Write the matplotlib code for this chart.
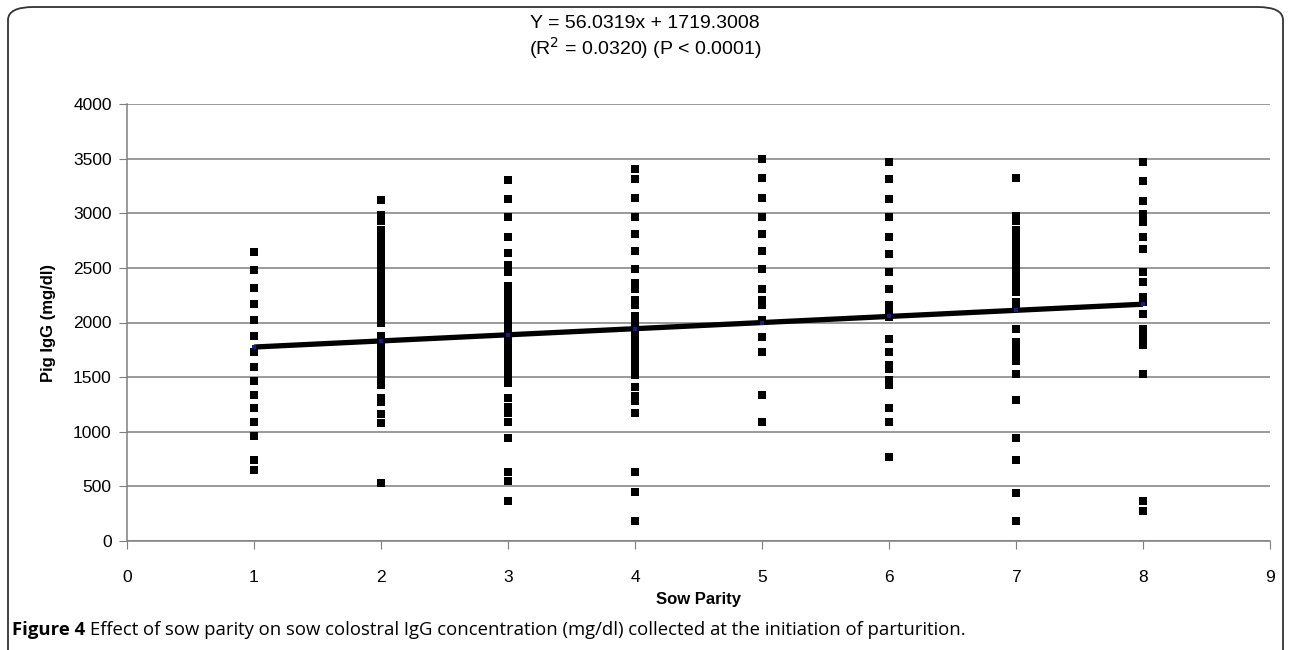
import matplotlib
matplotlib.use("Agg")
import matplotlib.pyplot as plt
from matplotlib.patches import FancyBboxPatch
import numpy as np

plt.rcParams['font.family'] = ['Liberation Sans', 'DejaVu Sans']

parity_1 = [2641, 2479, 2316, 2173, 2020, 1873, 1729, 1597, 1460, 1340, 1215, 1092, 964, 744, 652]
parity_2 = [3121, 2980, 2930, 2850, 2790, 2750, 2690, 2640, 2590, 2540, 2480, 2430,
            2390, 2340, 2290, 2240, 2190, 2140, 2090, 2040, 2000,
            1880, 1830, 1780, 1730, 1680, 1630, 1580, 1530, 1480, 1430,
            1310, 1270, 1160, 1080, 532]
parity_3 = [3305, 3129, 2968, 2780, 2637, 2530, 2460, 2330, 2270, 2210, 2150,
            2090, 2030, 1970, 1900, 1850, 1790, 1730, 1670, 1610, 1550, 1490, 1450,
            1311, 1229, 1168, 1092, 940, 636, 551, 363]
parity_4 = [3409, 3312, 3138, 2968, 2810, 2658, 2491, 2360, 2310, 2210, 2160,
            2060, 2010, 1944, 1868, 1820, 1760, 1700, 1640, 1580, 1520,
            1412, 1330, 1280, 1174, 636, 450, 187]
parity_5 = [3494, 3327, 3138, 2968, 2810, 2658, 2491, 2308, 2210, 2160, 2020,
            1868, 1731, 1336, 1092]
parity_6 = [3470, 3312, 3129, 2968, 2780, 2628, 2461, 2308, 2156, 2090, 2050,
            1852, 1731, 1610, 1570, 1470, 1430, 1214, 1092, 770]
parity_7 = [3327, 2977, 2930, 2850, 2790, 2730, 2700, 2640, 2580, 2536, 2470, 2430,
            2380, 2320, 2280, 2190, 2156, 1944, 1820, 1760, 1700, 1650, 1533,
            1290, 940, 743, 439, 187]
parity_8 = [3470, 3297, 3114, 2990, 2920, 2780, 2673, 2461, 2369, 2232, 2190,
            2080, 1944, 1868, 1790, 1533, 363, 272]

columns = [parity_1, parity_2, parity_3, parity_4, parity_5, parity_6, parity_7, parity_8]
slope = 56.0319
intercept = 1719.3008
x_ticks = list(range(0, 10))
y_ticks = list(range(0, 4001, 500))

fig = plt.figure(figsize=(12.9, 6.5), dpi=100)
ax = fig.add_axes([127/1290, 109/650, (1270-127)/1290, (541-104)/650])

for i, col in enumerate(columns, start=1):
    ax.scatter([i]*len(col), col, marker='s', s=28, color='black', linewidths=0, zorder=3)

xs = np.array([1, 8])
ax.plot(xs, slope*xs + intercept, color='black', linewidth=3.8, zorder=4, solid_capstyle='butt')
xi = np.arange(1, 9)
ax.scatter(xi, slope*xi + intercept, marker='s', s=6, color='#1a1a8c', zorder=5, linewidths=0)

ax.set_xlim(0, 9)
ax.set_ylim(0, 4000)
ax.set_xticks(x_ticks)
ax.set_yticks(y_ticks)
ax.yaxis.grid(True, color='#7f7f7f', linewidth=1.1)
ax.set_axisbelow(True)
for s in ['top', 'right']:
    ax.spines[s].set_visible(False)
for s in ['left', 'bottom']:
    ax.spines[s].set_color('#7f7f7f')
    ax.spines[s].set_linewidth(1.1)
ax.tick_params(axis='both', direction='out', length=6, color='#7f7f7f', labelsize=12.5, pad=5)
ax.tick_params(axis='x', pad=15)

ax.set_xlabel('Sow Parity', fontsize=12, fontweight='bold', labelpad=5)
ax.set_ylabel('Pig IgG (mg/dl)', fontsize=12, fontweight='bold', labelpad=12)

fig.text(0.5, 1 - 23/650, 'Y = 56.0319x + 1719.3008', ha='center', va='center', fontsize=14)
fig.text(0.5, 1 - 48/650, '(R$^2$ = 0.0320) (P < 0.0001)', ha='center', va='center', fontsize=14)

cap_y = 1 - 630/650
t1 = fig.text(12/1290, cap_y, 'Figure 4', ha='left', va='center', fontsize=13.3,
              fontweight='bold', family=['Open Sans', 'DejaVu Sans'])
fig.canvas.draw()
bb = t1.get_window_extent(renderer=fig.canvas.get_renderer())
fig.text(bb.x1 / fig.bbox.width + 5/1290, cap_y,
         'Effect of sow parity on sow colostral IgG concentration (mg/dl) collected at the initiation of parturition.',
         ha='left', va='center', fontsize=13.3, family=['Open Sans', 'DejaVu Sans'])

box = FancyBboxPatch((8/1290, -0.05), (1283-8)/1290, (0.05 + 1 - 7/650),
                     boxstyle='round,pad=0,rounding_size=0.02', transform=fig.transFigure,
                     fill=False, edgecolor='#333333', linewidth=1.3, clip_on=False)
fig.patches.append(box)

fig.savefig('out.png', dpi=100)
